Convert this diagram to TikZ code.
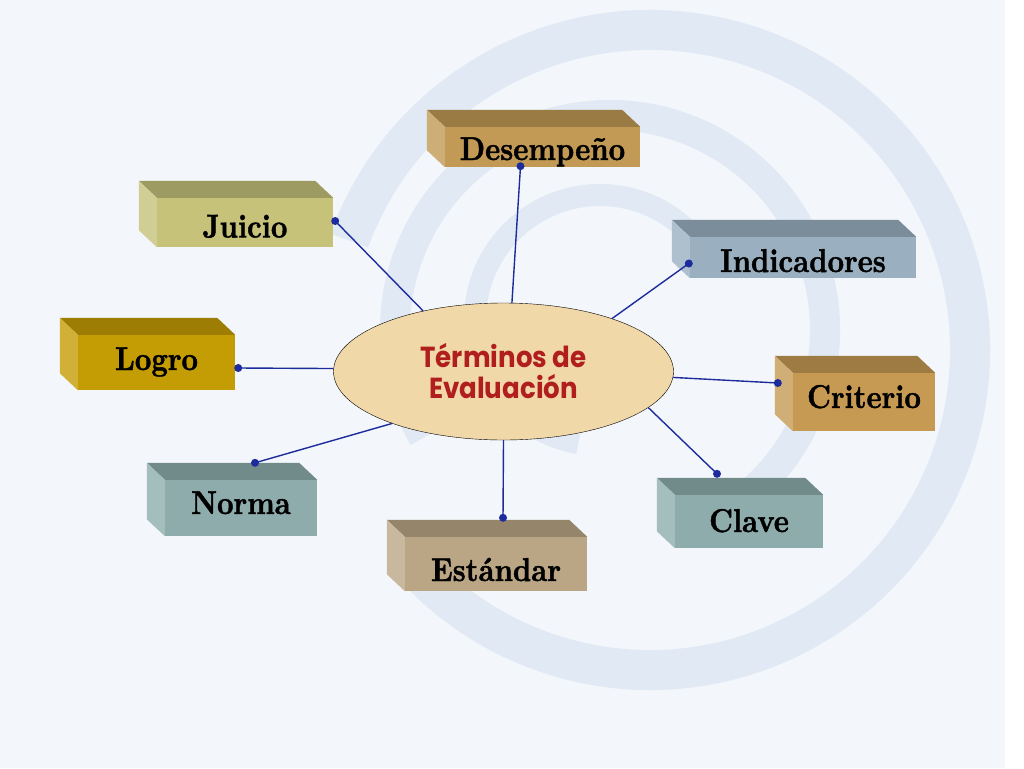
\documentclass[tikz,border=0pt]{standalone}
\usepackage{fontspec}
\newfontfamily\gotica[FakeStretch=0.9]{Poppins}
\newfontfamily\serifa[FakeStretch=0.87, FakeBold=1.2]{lmroman10-bold.otf}
\usetikzlibrary{shapes.geometric}
\usetikzlibrary{calc}
\definecolor{fondo}{HTML}{F3F6FA}
\definecolor{anillo}{HTML}{E0E9F4}
\definecolor{azul}{HTML}{1C2C9C}
\definecolor{rojo}{HTML}{B01E1E}
\definecolor{crema}{HTML}{F1D8A9}
\definecolor{cDesem}{HTML}{C29A55}
\definecolor{cJuicio}{HTML}{C6C27A}
\definecolor{cIndic}{HTML}{9AB0C0}
\definecolor{cLogro}{HTML}{C49C04}
\definecolor{cCrit}{HTML}{C69A52}
\definecolor{cNorma}{HTML}{8EACAC}
\definecolor{cEstan}{HTML}{BAA684}
\definecolor{cClave}{HTML}{8EACAC}
\tikzset{caja/.style={fill=#1, inner sep=0pt, text depth=0pt, font=\serifa\fontsize{33}{36}\selectfont},
  conector/.style={azul, line width=1.4pt},
  punto/.style={fill=azul}}

\begin{document}
\begin{tikzpicture}[x=1pt, y=-1pt]
	\useasboundingbox (0,0) rectangle (1024,768);
	\fill[white] (0,0) rectangle (1024,768);
	\fill[fondo] (0,0) rectangle (1005,768);
	
	% swirl in the back
	\draw[anillo, line width=40] (650,350) ++(200:320) arc (200:500:320);
	\draw[anillo, line width=30] (610,330) ++(150:215) arc (150:420:215);
	\draw[anillo, line width=22] (600,320) ++(100:125) arc (100:330:125);
	
	\node[ellipse, draw=black, fill=crema, minimum width=340, minimum height=137, inner sep=0pt,
	      align=center, text=rojo, font=\gotica\bfseries\fontsize{29}{31}\selectfont] (centro) at (503.5,371.5) {Términos de\\Evaluación};
	
	\node[caja=cDesem, minimum width=195, minimum height=40, text height=26] (desempeno) at (542.5,147) {Desempeño};
	\node[caja=cJuicio, minimum width=176, minimum height=49, text height=30] (juicio) at (245,222.5) {Juicio};
	\node[caja=cIndic, minimum width=226, minimum height=41, text height=29] (indicadores) at (803,257.5) {Indicadores};
	\node[caja=cLogro, minimum width=157, minimum height=55, text height=15] (logro) at (156.5,362.5) {Logro};
	\node[caja=cCrit, minimum width=142, minimum height=58, text height=12] (criterio) at (864,402) {Criterio};
	\node[caja=cNorma, minimum width=152, minimum height=56, text height=12] (norma) at (241,508) {Norma};
	\node[caja=cEstan, minimum width=182, minimum height=54, text height=34] (estandar) at (496,564) {Estándar};
	\node[caja=cClave, minimum width=148, minimum height=53, text height=21] (clave) at (749,521.5) {Clave};
	
	% top and side of each block
	\foreach \n/\c in {desempeno/cDesem, juicio/cJuicio, indicadores/cIndic, logro/cLogro,
	                   criterio/cCrit, norma/cNorma, estandar/cEstan, clave/cClave} {
		\fill[\c!80!black] (\n.north west) -- ++(-18,-17) -- ($(\n.north east)+(-18,-17)$) -- (\n.north east) -- cycle;
		\fill[\c!80!white] (\n.north west) -- ++(-18,-17) -- ($(\n.south west)+(-18,-17)$) -- (\n.south west) -- cycle;
	}
	
	\coordinate (pDesem) at ($(desempeno.south)+(-22,-1)$);
	\coordinate (pJuicio) at ($(juicio.east)+(2,-1.5)$);
	\coordinate (pIndic) at ($(indicadores.west)+(-1,6)$);
	\coordinate (pLogro) at ($(logro.east)+(3,5.5)$);
	\coordinate (pCrit) at ($(criterio.west)+(-15,-19)$);
	\coordinate (pNorma) at ($(norma.north)+(14,-17)$);
	\coordinate (pEstan) at ($(estandar.north)+(7,-19)$);
	\coordinate (pClave) at ($(clave.north)+(-32,-21)$);
	
	\draw[conector] (pDesem) -- (centro.83);
	\draw[conector] (pJuicio) -- (centro.143);
	\draw[conector] (pIndic) -- (centro.26);
	\draw[conector] (pLogro) -- (centro.179);
	\draw[conector] (pCrit) -- (centro.-2);
	\draw[conector] (pNorma) -- (centro.205);
	\draw[conector] (pEstan) -- (centro.270);
	\draw[conector] (pClave) -- (centro.-14);
	
	\foreach \p in {pDesem, pJuicio, pIndic, pLogro, pCrit, pNorma, pEstan, pClave}
		\fill[punto] (\p) circle (4);
\end{tikzpicture}
\end{document}
